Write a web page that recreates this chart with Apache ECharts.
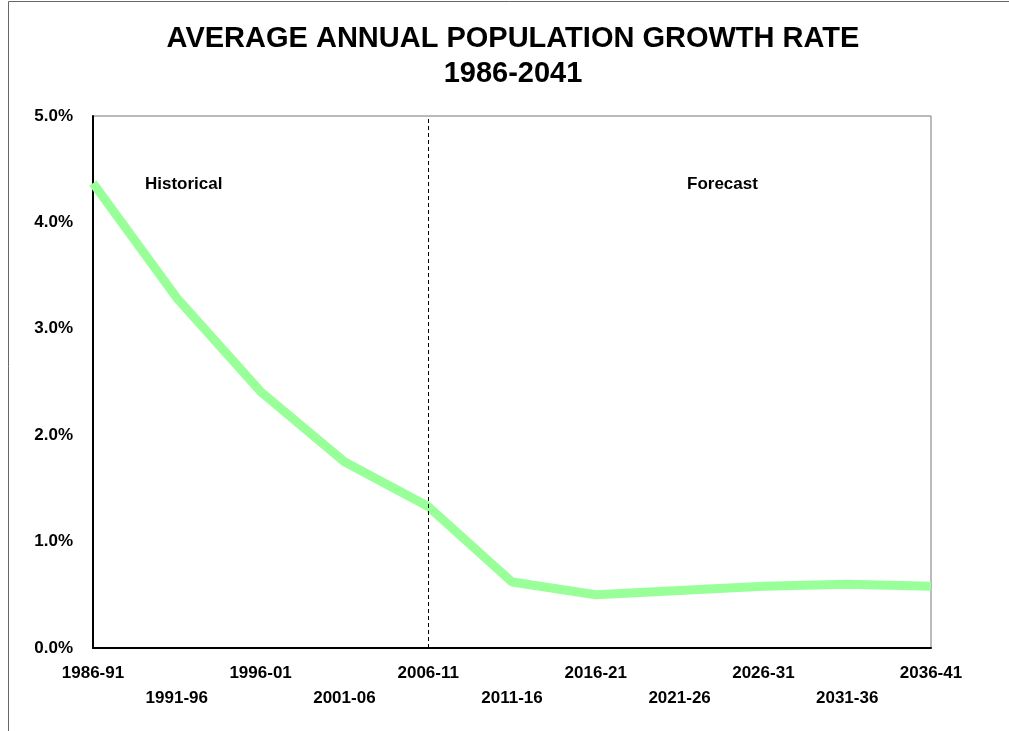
<!DOCTYPE html>
<html>
<head>
<meta charset="utf-8">
<script src="https://cdn.jsdelivr.net/npm/echarts@6/dist/echarts.min.js"></script>
<style>html,body{margin:0;padding:0;background:#fff;}#c{width:1009px;height:731px;}</style>
</head>
<body>
<div id="c"></div>
<script>
const categories = ['1986-91','1991-96','1996-01','2001-06','2006-11','2011-16','2016-21','2021-26','2026-31','2031-36','2036-41'];
const growthRate = [4.37, 3.29, 2.41, 1.75, 1.33, 0.62, 0.50, 0.54, 0.58, 0.60, 0.58];
const yTicks = [0, 1, 2, 3, 4, 5];
const dividerCategory = '2006-11';

const chart = echarts.init(document.getElementById('c'));
const font = '"Liberation Sans", Arial, sans-serif';
chart.setOption({
  animation: false,
  backgroundColor: '#fff',
  title: {
    text: 'AVERAGE ANNUAL POPULATION GROWTH RATE\n1986-2041',
    left: 508, top: 16, textAlign: 'center',
    textStyle: { fontFamily: font, fontWeight: 'bold', fontSize: 29, lineHeight: 35, color: '#000' }
  },
  graphic: [
    { type: 'rect', silent: true, shape: { x: 8.5, y: 1.5, width: 1200, height: 900 }, style: { fill: 'none', stroke: '#666', lineWidth: 1 } },
    { type: 'text', left: 145, top: 176, style: { text: 'Historical', font: 'bold 17px "Liberation Sans", Arial', fill: '#000' } },
    { type: 'text', left: 687, top: 176, style: { text: 'Forecast', font: 'bold 17px "Liberation Sans", Arial', fill: '#000' } }
  ],
  grid: { left: 93, top: 116, right: 78, bottom: 83, show: true, borderColor: '#777', borderWidth: 1 },
  xAxis: {
    type: 'category', data: categories, boundaryGap: false,
    axisLine: { lineStyle: { color: '#000', width: 2 } },
    axisTick: { show: false },
    axisLabel: {
      interval: 0, margin: 13, color: '#000', fontFamily: font, fontWeight: 'bold', fontSize: 17, lineHeight: 25,
      formatter: (v, i) => (i % 2 === 1 ? '\n' + v : v)
    },
    splitLine: { show: false }
  },
  yAxis: {
    type: 'value', min: yTicks[0], max: yTicks[yTicks.length - 1], interval: 1,
    axisLine: { show: true, lineStyle: { color: '#000', width: 2 } },
    axisTick: { show: false },
    splitLine: { show: false },
    axisLabel: { margin: 20, color: '#000', fontFamily: font, fontWeight: 'bold', fontSize: 17, formatter: v => v.toFixed(1) + '%' }
  },
  series: [{
    type: 'line', data: growthRate, symbol: 'none',
    lineStyle: { color: '#99ff99', width: 9 },
    markLine: {
      silent: true, symbol: 'none', label: { show: false },
      lineStyle: { color: '#000', type: [4, 3], width: 1 },
      data: [{ xAxis: dividerCategory }]
    }
  }]
});
</script>
</body>
</html>
